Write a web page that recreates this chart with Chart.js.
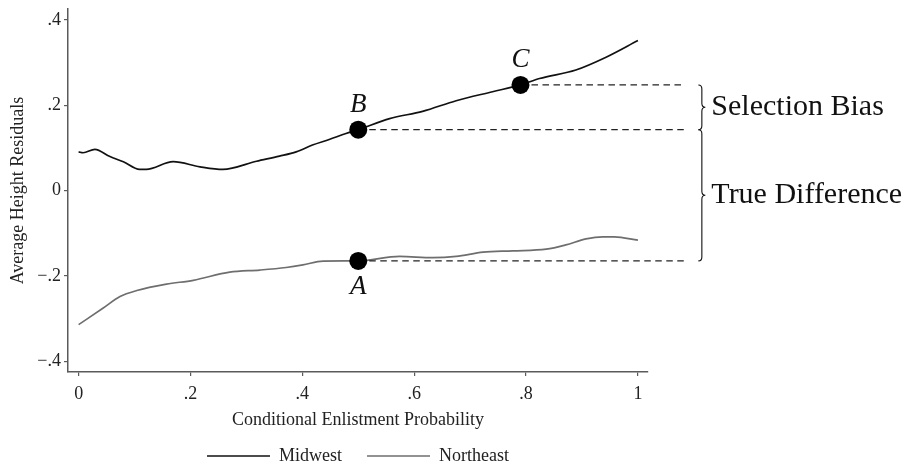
<!DOCTYPE html>
<html>
<head>
  <title>Height residuals by enlistment probability</title>
  <script src="https://cdn.jsdelivr.net/npm/chart.js"></script>
  <style>
    body { margin: 0; background: #fff; }
  </style>
</head>
<body>
<canvas id="myChart" width="911" height="467"></canvas>
<script>
  // Midwest curve
  const midwestX = [0, 0.008, 0.029, 0.056, 0.080, 0.109, 0.121, 0.169, 0.217, 0.258, 0.318, 0.359, 0.389, 0.418, 0.448, 0.478, 0.5, 0.556, 0.615, 0.675, 0.740, 0.790, 0.824, 0.889, 0.943, 1.0];
  const midwestY = [0.091, 0.089, 0.097, 0.080, 0.068, 0.050, 0.050, 0.068, 0.056, 0.050, 0.069, 0.081, 0.091, 0.107, 0.120, 0.134, 0.143, 0.169, 0.186, 0.211, 0.232, 0.248, 0.263, 0.283, 0.313, 0.352];

  // Northeast curve
  const northeastX = [0, 0.044, 0.074, 0.104, 0.157, 0.205, 0.270, 0.324, 0.371, 0.401, 0.437, 0.5, 0.574, 0.633, 0.675, 0.723, 0.776, 0.836, 0.871, 0.907, 0.937, 0.958, 1.0];
  const northeastY = [-0.314, -0.275, -0.248, -0.234, -0.219, -0.210, -0.191, -0.186, -0.180, -0.174, -0.165, -0.1645, -0.154, -0.157, -0.154, -0.144, -0.141, -0.137, -0.127, -0.113, -0.108, -0.108, -0.116];

  // marked points A, B, C
  const dotLabels = ['A', 'B', 'C'];
  const dotX = [0.5, 0.5, 0.79];
  const dotY = [-0.1645, 0.143, 0.248];
  const dashEndX = 1.083;

  const xTicks = [0, 0.2, 0.4, 0.6, 0.8, 1];
  const xTickLabels = ['0', '.2', '.4', '.6', '.8', '1'];
  const yTicks = [-0.4, -0.2, 0, 0.2, 0.4];
  const yTickLabels = ['\u2212.4', '\u2212.2', '0', '.2', '.4'];

  const braceTexts = ['Selection Bias', 'True Difference'];

  const serif = '"Liberation Serif", "Times New Roman", serif';
  const axisColor = '#5a5a5a';

  function toPoints(xs, ys) {
    return xs.map((x, i) => ({x: x, y: ys[i]}));
  }

  const dashSets = dotY.map((y, i) => ({
    label: 'dash' + i,
    data: [{x: dotX[i], y: y}, {x: dashEndX, y: y}],
    borderColor: '#222',
    borderWidth: 1.2,
    borderDash: [6.5, 4.5],
    pointRadius: 0,
    clip: false,
    order: 2
  }));

  const bracePlugin = {
    id: 'braces',
    afterDraw(chart) {
      const ctx = chart.ctx;
      const xs = chart.scales.x;
      const ys = chart.scales.y;
      const bx = xs.getPixelForValue(dashEndX) + 14;
      const yC = ys.getPixelForValue(dotY[2]);
      const yB = ys.getPixelForValue(dotY[1]);
      const yA = ys.getPixelForValue(dotY[0]);
      const w = 7;

      function brace(y1, y2) {
        const ym = (y1 + y2) / 2;
        const sx = bx + w / 2;
        const q = 4;
        ctx.beginPath();
        ctx.moveTo(bx, y1);
        ctx.quadraticCurveTo(sx, y1, sx, y1 + q);
        ctx.lineTo(sx, ym - q);
        ctx.quadraticCurveTo(sx, ym, bx + w, ym);
        ctx.quadraticCurveTo(sx, ym, sx, ym + q);
        ctx.lineTo(sx, y2 - q);
        ctx.quadraticCurveTo(sx, y2, bx, y2);
        ctx.stroke();
      }

      ctx.save();
      ctx.strokeStyle = '#111';
      ctx.lineWidth = 1.1;
      brace(yC, yB);
      brace(yB, yA);

      ctx.fillStyle = '#111';
      ctx.font = '30px ' + serif;
      ctx.textAlign = 'left';
      ctx.textBaseline = 'middle';
      ctx.fillText(braceTexts[0], bx + w + 6, (yC + yB) / 2);
      ctx.fillText(braceTexts[1], bx + w + 6, (yB + yA) / 2);

      // point letters
      ctx.font = 'italic 27px ' + serif;
      ctx.textAlign = 'center';
      dotLabels.forEach((t, i) => {
        const px = xs.getPixelForValue(dotX[i]);
        const py = ys.getPixelForValue(dotY[i]);
        const off = i === 0 ? 26 : -25;
        ctx.fillText(t, px, py + off);
      });
      ctx.restore();
    }
  };

  const ctx = document.getElementById('myChart').getContext('2d');
  new Chart(ctx, {
    type: 'line',
    data: {
      datasets: [
        {
          label: 'Midwest',
          data: toPoints(midwestX, midwestY),
          borderColor: '#111',
          borderWidth: 1.7,
          pointRadius: 0,
          cubicInterpolationMode: 'monotone',
          order: 3
        },
        {
          label: 'Northeast',
          data: toPoints(northeastX, northeastY),
          borderColor: '#6e6e6e',
          borderWidth: 1.7,
          pointRadius: 0,
          cubicInterpolationMode: 'monotone',
          order: 3
        },
        ...dashSets,
        {
          label: 'points',
          data: toPoints(dotX, dotY),
          showLine: false,
          pointRadius: 9,
          pointBackgroundColor: '#000',
          pointBorderWidth: 0,
          clip: false,
          order: 0
        }
      ]
    },
    options: {
      responsive: false,
      animation: false,
      devicePixelRatio: 1,
      layout: {
        padding: {left: 0, right: 263, top: 7, bottom: -8}
      },
      plugins: {
        tooltip: {enabled: false},
        legend: {
          position: 'bottom',
          fullSize: false,
          labels: {
            filter: item => item.datasetIndex < 2,
            usePointStyle: true,
            pointStyle: 'line',
            pointStyleWidth: 63,
            padding: 25,
            color: '#222',
            font: {family: serif, size: 18}
          }
        }
      },
      scales: {
        x: {
          type: 'linear',
          min: -0.019,
          max: 1.018,
          afterBuildTicks: s => { s.ticks = xTicks.map(v => ({value: v})); },
          afterFit: s => { s.height = 50; s.paddingLeft = 0; s.paddingRight = 0; },
          ticks: {
            callback: (v) => xTickLabels[xTicks.indexOf(v)],
            color: '#222',
            padding: 7,
            maxRotation: 0,
            font: {family: serif, size: 18}
          },
          grid: {drawOnChartArea: false, drawTicks: true, tickLength: 4, color: axisColor, lineWidth: 1.2},
          border: {display: true, color: axisColor, width: 1.5},
          title: {
            display: true,
            text: 'Conditional Enlistment Probability',
            color: '#222',
            padding: {top: 0, bottom: -9.5},
            font: {family: serif, size: 18}
          }
        },
        y: {
          min: -0.425,
          max: 0.426,
          afterBuildTicks: s => { s.ticks = yTicks.map(v => ({value: v})); },
          afterFit: s => { s.width = 68; s.paddingTop = 0; s.paddingBottom = 0; },
          ticks: {
            callback: (v) => yTickLabels[yTicks.indexOf(v)],
            color: '#222',
            padding: 3,
            font: {family: serif, size: 18}
          },
          grid: {drawOnChartArea: false, drawTicks: true, tickLength: 4, color: axisColor, lineWidth: 1.2},
          border: {display: true, color: axisColor, width: 1.5},
          title: {
            display: true,
            text: 'Average Height Residuals',
            color: '#222',
            padding: {top: 7, bottom: 0},
            font: {family: serif, size: 18}
          }
        }
      }
    },
    plugins: [bracePlugin]
  });
</script>
</body>
</html>
